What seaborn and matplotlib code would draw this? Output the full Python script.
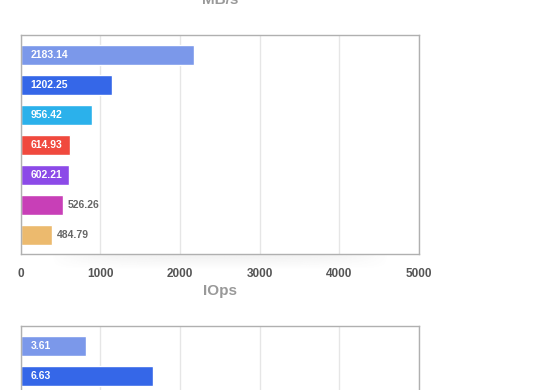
import numpy as np
import pandas as pd
import matplotlib
matplotlib.use("Agg")
import matplotlib.pyplot as plt
import seaborn as sns

# bar lengths as drawn in the reference, and the value labels printed on them
devices = ["A", "B", "C", "D", "E", "F", "G"]
mbps = [2180, 1140, 900, 615, 604, 525, 390]
mbps_labels = ["2183.14", "1202.25", "956.42", "614.93", "602.21", "526.26", "484.79"]

iops_devices = ["A", "B"]
iops = [3.27, 6.63]
iops_labels = ["3.61", "6.63"]

colors = ["#7b98ea", "#3567e8", "#2bb1eb", "#f0493e", "#8c4ae8", "#c83fb7", "#ecba6e"]
mbps_ticks = [0, 1000, 2000, 3000, 4000, 5000]
iops_ticks = [0, 4, 8, 12, 16, 20]

sns.set_style("white")
plt.rcParams["font.family"] = ["Liberation Sans", "DejaVu Sans"]

W, H = 560, 390
fig = plt.figure(figsize=(W / 100, H / 100), dpi=100)

left, right = 20.7, 419
plot_h = 219
ax1 = fig.add_axes([left / W, 1 - (35 + plot_h) / H, (right - left) / W, plot_h / H])
ax2 = fig.add_axes([left / W, 1 - (325.7 + plot_h) / H, (right - left) / W, plot_h / H])


def draw(ax, names, values, labels, ticks, show_ticks=True):
    df = pd.DataFrame({"device": names, "value": values})
    sns.barplot(data=df, x="value", y="device", hue="device", palette=colors[:len(names)],
                orient="h", width=0.667, legend=False, ax=ax, saturation=1)
    ax.set_xlim(ticks[0], ticks[-1])
    ax.set_ylim(6.63, -0.667)
    ax.set_xticks(ticks)
    ax.set_yticks([])
    ax.set_xlabel("")
    ax.set_ylabel("")
    ax.xaxis.grid(True, color="#e6e6e6", lw=1)
    ax.set_axisbelow(True)
    for s in ax.spines.values():
        s.set_color("#b0b0b0")
        s.set_linewidth(1)
    ax.tick_params(axis="x", length=0, pad=10, labelsize=8.5, labelcolor="#555555",
                   labelbottom=show_ticks)
    for t in ax.get_xticklabels():
        t.set_fontweight("bold")
    px_per_unit = (right - left) / (ticks[-1] - ticks[0])
    for i, (v, lab) in enumerate(zip(values, labels)):
        if v * px_per_unit > 46:
            ax.annotate(lab, xy=(0, i), xytext=(10, 0), textcoords="offset pixels",
                        ha="left", va="center", color="white", fontsize=7.5, fontweight="bold")
        else:
            ax.annotate(lab, xy=(v, i), xytext=(5, 0), textcoords="offset pixels",
                        ha="left", va="center", color="#666666", fontsize=7.5, fontweight="bold")


draw(ax1, devices, mbps, mbps_labels, mbps_ticks)
# the IOps tick labels fall below the visible area
draw(ax2, iops_devices, iops, iops_labels, iops_ticks, show_ticks=False)

# soft shadow under the first chart
sh = fig.add_axes([50 / W, 1 - 270 / H, 340 / W, 16 / H], zorder=-1)
yy = np.linspace(0, 1, 16)[:, None]
xx = np.linspace(-1, 1, 200)[None, :]
alpha = 0.10 * (1 - yy) * np.clip(1 - xx ** 4, 0, 1)
img = np.zeros((16, 200, 4))
img[..., :3] = 0.4
img[..., 3] = alpha
sh.imshow(img, aspect="auto", interpolation="bilinear")
sh.axis("off")

cx = (left + right) / 2 / W
fig.text(cx, 1 - 4 / H, "MB/s", ha="center", va="baseline", fontsize=11,
         fontweight="bold", color="#999999")
fig.text(cx, 1 - 295 / H, "IOps", ha="center", va="baseline", fontsize=11,
         fontweight="bold", color="#999999")

fig.savefig("out.png", dpi=100)
